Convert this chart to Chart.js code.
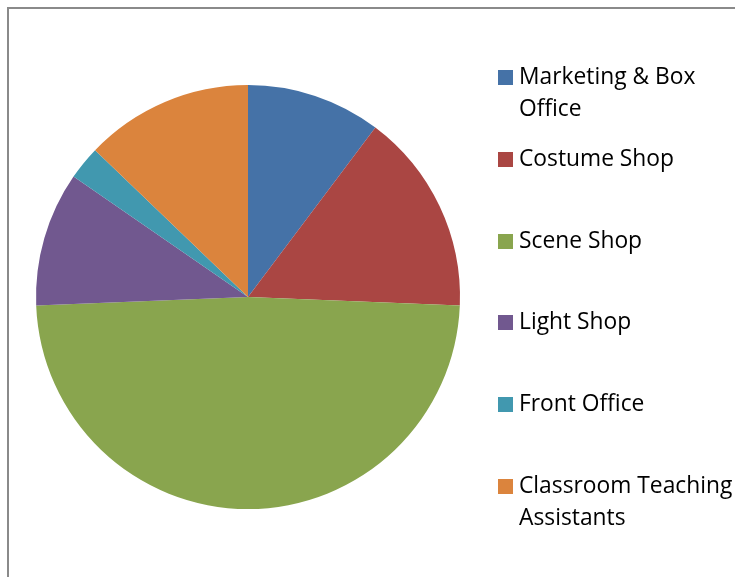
<!DOCTYPE html>
<html>
<head>
<meta charset="utf-8">
<script src="https://cdn.jsdelivr.net/npm/chart.js@4.4.0/dist/chart.umd.min.js"></script>
<style>
  html, body { margin: 0; padding: 0; background: #fff; }
  #wrap { position: relative; width: 735px; height: 577px; }
</style>
</head>
<body>
<div id="wrap"><canvas id="chart" width="735" height="577"></canvas></div>
<script>
// category names, split where the legend wraps them
const categories = [
    ['Marketing & Box', 'Office'],
    ['Costume Shop'],
    ['Scene Shop'],
    ['Light Shop'],
    ['Front Office'],
    ['Classroom Teaching', 'Assistants']
];
const staffCounts = [4, 6, 19, 4, 1, 5];
const sliceColors = ['#4572A7', '#AA4643', '#89A54E', '#71588F', '#4198AF', '#DB843D'];

// frame + legend drawn straight on the canvas
const sideLegend = {
    id: 'sideLegend',
    beforeDraw(chart) {
        const ctx = chart.ctx;
        ctx.save();
        ctx.strokeStyle = '#8a8a8a';
        ctx.lineWidth = 2;
        ctx.beginPath();
        ctx.moveTo(8, 577);
        ctx.lineTo(8, 8);
        ctx.lineTo(735, 8);
        ctx.stroke();
        ctx.restore();
    },
    afterDraw(chart) {
        const ctx = chart.ctx;
        const labels = chart.data.labels;
        const colors = chart.data.datasets[0].backgroundColor;
        ctx.save();
        ctx.font = '22.8px "Open Sans"';
        ctx.fillStyle = '#000';
        ctx.textBaseline = 'middle';
        const rowTops = [77, 159, 241, 322, 404, 486];
        labels.forEach((lines, i) => {
            const y = rowTops[i];
            ctx.fillStyle = colors[i];
            ctx.fillRect(498, y - 7, 15, 15);
            ctx.fillStyle = '#000';
            lines.forEach((line, j) => {
                ctx.fillText(line, 519, y + 1 + j * 32);
            });
        });
        ctx.restore();
    }
};

new Chart(document.getElementById('chart'), {
    type: 'pie',
    data: {
        labels: categories,
        datasets: [{
            data: staffCounts,
            backgroundColor: sliceColors,
            borderWidth: 0
        }]
    },
    options: {
        responsive: false,
        animation: false,
        layout: {
            padding: { left: 36, top: 85, right: 275, bottom: 68 }
        },
        plugins: {
            legend: { display: false },
            tooltip: { enabled: false }
        }
    },
    plugins: [sideLegend]
});
</script>
</body>
</html>
